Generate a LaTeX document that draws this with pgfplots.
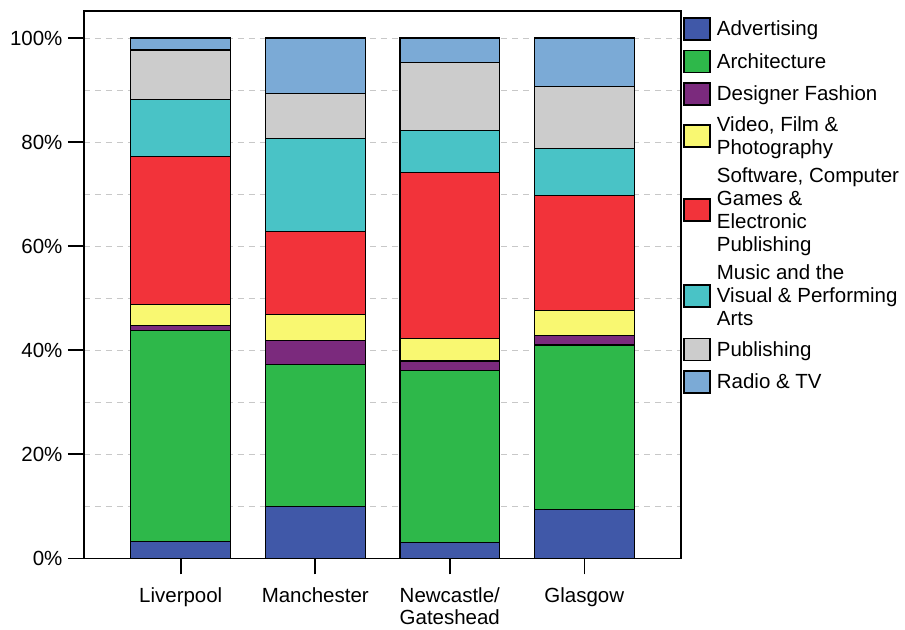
\documentclass[border=0pt]{standalone}
\usepackage{pgfplots}
\pgfplotsset{compat=1.18}
\usepackage{fontspec}
\setmainfont{Liberation Sans}

\definecolor{cAdv}{RGB}{64,88,168}
\definecolor{cArch}{RGB}{46,184,74}
\definecolor{cFash}{RGB}{123,42,125}
\definecolor{cVid}{RGB}{249,248,113}
\definecolor{cSoft}{RGB}{242,51,58}
\definecolor{cMus}{RGB}{73,195,198}
\definecolor{cPub}{RGB}{204,204,204}
\definecolor{cRad}{RGB}{123,170,214}
\definecolor{gridgray}{RGB}{200,200,200}

\newcommand{\chartfont}{\fontsize{20.5}{23}\selectfont}

% share of creative-industry employment by sector, per city (percent)
\pgfplotstableread{
x  adv  arch  fash  vid  soft  mus  pub  rad
0  3.3  40.5  1.0   4.0  28.4  11.0  9.5  2.3
1  10.0 27.3  4.5   5.0  16.0  17.9  8.6  10.7
2  3.1  33.0  1.8   4.3  31.9  8.1   13.1 4.7
3  9.4  31.6  1.8   4.8  22.1  9.1   11.9 9.3
}\shares

\begin{document}
\begin{tikzpicture}
\begin{axis}[
  name=ax,
  scale only axis,
  width=598pt, height=548pt,
  xmin=-0.72, xmax=3.72,
  ymin=0, ymax=105.2,
  ybar stacked,
  bar width=100pt,
  every axis plot post/.append style={
    draw=black, line width=1.3pt,
    legend image code/.code={\draw[##1, line width=1.6pt] (0pt,-11pt) rectangle (26pt,11pt);}
  },
  xtick={0,1,2,3},
  xticklabels={Liverpool,Manchester,{Newcastle/\\Gateshead},Glasgow},
  xticklabel style={align=center, yshift=-10pt},
  yticklabel style={xshift=-2pt},
  ytick={0,20,40,60,80,100},
  minor ytick={10,30,50,70,90},
  yticklabel={\pgfmathprintnumber{\tick}\%},
  /pgf/number format/assume math mode=true,
  tick label style={font=\fontsize{20.5}{22}\selectfont},
  ymajorgrids, yminorgrids,
  major grid style={color=gridgray, line width=0.9pt, dash pattern=on 6pt off 5pt},
  minor grid style={color=gridgray, line width=0.9pt, dash pattern=on 6pt off 5pt},
  tick align=outside,
  xtick pos=bottom, ytick pos=left,
  major tick length=16pt, minor tick length=0pt,
  tick style={black, line width=1.6pt},
  axis line style={black, line width=1.6pt},
  legend style={
    at={(1,1)}, anchor=north west,
    xshift=2pt, yshift=-6pt,
    draw=none, fill=none,
    inner sep=0pt,
    row sep=9pt,
    font=\chartfont,
    nodes={inner xsep=6pt, inner ysep=1.5pt},
    cells={anchor=west, align=left},
  },
]
\addplot[fill=cAdv]  table[x=x, y=adv]  {\shares};
\addplot[fill=cArch] table[x=x, y=arch] {\shares};
\addplot[fill=cFash] table[x=x, y=fash] {\shares};
\addplot[fill=cVid]  table[x=x, y=vid]  {\shares};
\addplot[fill=cSoft] table[x=x, y=soft] {\shares};
\addplot[fill=cMus]  table[x=x, y=mus]  {\shares};
\addplot[fill=cPub]  table[x=x, y=pub]  {\shares};
\addplot[fill=cRad]  table[x=x, y=rad]  {\shares};
\legend{Advertising, Architecture, Designer Fashion,
  {Video, Film \&\\Photography},
  {Software, Computer\\Games \&\\Electronic\\Publishing},
  {Music and the\\Visual \& Performing\\Arts},
  Publishing, Radio \& TV}
\end{axis}
\path (ax.south west) ++(-84pt,-71pt) rectangle ++(905pt,630pt);
\end{tikzpicture}
\end{document}
